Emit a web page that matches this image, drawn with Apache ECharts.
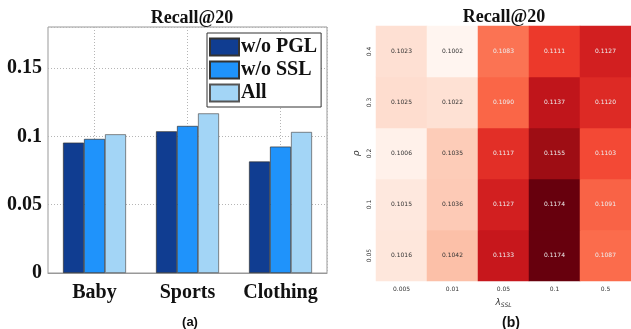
<!DOCTYPE html>
<html>
<head>
<meta charset="utf-8">
<script src="https://cdn.jsdelivr.net/npm/echarts@6/dist/echarts.min.js"></script>
<style>
    html, body { margin: 0; padding: 0; background: #fff; }
    #main { width: 631px; height: 329px; }
</style>
</head>
<body>
<div id="main"></div>
<script>
    // 柱状图数据
    var datasets = ['Baby', 'Sports', 'Clothing'];
    var variants = ['w/o PGL', 'w/o SSL', 'All'];
    var recallNoPGL = [0.0954, 0.1037, 0.0816];
    var recallNoSSL = [0.0981, 0.1076, 0.0925];
    var recallAll = [0.1015, 0.1168, 0.1032];

    // 热力图数据
    var lambdaSSL = ['0.005', '0.01', '0.05', '0.1', '0.5'];
    var rhoValues = ['0.05', '0.1', '0.2', '0.3', '0.4'];
    // 每行对应一个rho (从0.05到0.4)
    var heatRho005 = [0.1016, 0.1042, 0.1133, 0.1174, 0.1087];
    var heatRho01 = [0.1015, 0.1036, 0.1127, 0.1174, 0.1091];
    var heatRho02 = [0.1006, 0.1035, 0.1117, 0.1155, 0.1103];
    var heatRho03 = [0.1025, 0.1022, 0.1090, 0.1137, 0.1120];
    var heatRho04 = [0.1023, 0.1002, 0.1083, 0.1111, 0.1127];

    var heatRows = [heatRho005, heatRho01, heatRho02, heatRho03, heatRho04];
    var heatData = [];
    var heatMin = Infinity, heatMax = -Infinity;
    for (var r = 0; r < heatRows.length; r++) {
        for (var c = 0; c < heatRows[r].length; c++) {
            var v = heatRows[r][c];
            heatMin = Math.min(heatMin, v);
            heatMax = Math.max(heatMax, v);
            heatData.push({
                value: [c, r, v],
                // 深色格子用浅色字
                label: { color: v > 0.106 ? '#eeeeee' : '#333' }
            });
        }
    }

    var serifBold = { fontFamily: 'Liberation Serif', fontWeight: 'bold', color: '#111' };
    var reds = ['#fff5f0', '#fee0d2', '#fcbba1', '#fc9272', '#fb6a4a', '#ef3b2c', '#cb181d', '#a50f15', '#67000d'];
    var gridDot = { lineStyle: { color: '#b5b5b5', type: [1, 2], width: 1 } };

    var chart = echarts.init(document.getElementById('main'));
    var option = {
        backgroundColor: '#fff',
        animation: false,
        title: [
            { text: 'Recall@20', left: 187, top: 4, textAlign: 'center',
              textStyle: Object.assign({ fontSize: 18 }, serifBold) },
            { text: 'Recall@20', left: 499, top: 3, textAlign: 'center',
              textStyle: Object.assign({ fontSize: 18 }, serifBold) },
            { text: '(a)', left: 185, top: 311, textAlign: 'center',
              textStyle: { fontFamily: 'Liberation Sans', fontWeight: 'bold', fontSize: 13, color: '#111' } },
            { text: '(b)', left: 506, top: 311, textAlign: 'center',
              textStyle: { fontFamily: 'Liberation Sans', fontWeight: 'bold', fontSize: 14, color: '#111' } }
        ],
        legend: {
            data: variants,
            orient: 'vertical',
            left: 207,
            top: 33,
            padding: [4, 4, 4, 2],
            itemWidth: 29,
            itemHeight: 17,
            itemGap: 3,
            icon: 'rect',
            backgroundColor: '#fff',
            borderColor: '#333',
            borderWidth: 1,
            borderRadius: 0,
            textStyle: Object.assign({ fontSize: 20, padding: [0, 0, 0, -3] }, serifBold)
        },
        grid: [
            { left: 48, top: 27, width: 279, height: 246, show: true,
              borderColor: '#999', borderWidth: 1, backgroundColor: 'transparent' },
            { left: 376, top: 26, width: 257, height: 255 }
        ],
        xAxis: [
            {
                type: 'category', gridIndex: 0, data: datasets,
                axisLine: { lineStyle: { color: '#999' } },
                axisTick: { show: false },
                axisLabel: Object.assign({ fontSize: 20, margin: 10, interval: 0, hideOverlap: false }, serifBold),
                splitLine: { show: false }
            },
            {
                // 辅助轴: 在类目中心画竖向虚线
                type: 'category', gridIndex: 0, data: [0, 1, 2, 3, 4, 5],
                position: 'bottom',
                axisLine: { show: false }, axisTick: { show: false }, axisLabel: { show: false },
                splitLine: Object.assign({ show: true, interval: function (i) { return i % 2 === 1; } }, gridDot)
            },
            {
                type: 'category', gridIndex: 1, data: lambdaSSL,
                axisLine: { show: false },
                axisTick: { length: 3, lineStyle: { color: '#333' } },
                axisLabel: { fontSize: 6, color: '#333', margin: 5, interval: 0, fontFamily: 'DejaVu Sans' },
                name: '{l|λ}{s|SSL}',
                nameLocation: 'middle',
                nameGap: 17,
                nameTextStyle: {
                    rich: {
                        l: { fontSize: 9, fontStyle: 'italic', color: '#333', fontFamily: 'DejaVu Sans' },
                        s: { fontSize: 6, fontStyle: 'italic', color: '#333', fontFamily: 'DejaVu Sans', verticalAlign: 'bottom', padding: [4, 0, 0, 0] }
                    }
                },
                splitArea: { show: false }
            }
        ],
        yAxis: [
            {
                type: 'value', gridIndex: 0, min: 0, max: 0.18, interval: 0.05,
                axisLine: { show: false },
                axisTick: { show: false },
                axisLabel: Object.assign({ fontSize: 20, margin: 6, showMaxLabel: false }, serifBold),
                splitLine: gridDot
            },
            {
                type: 'category', gridIndex: 1, data: rhoValues,
                axisLine: { show: false },
                axisTick: { length: 3, lineStyle: { color: '#333' } },
                axisLabel: { fontSize: 6, color: '#333', rotate: 90, margin: 4, interval: 0, fontFamily: 'DejaVu Sans' },
                name: 'ρ',
                nameLocation: 'middle',
                nameRotate: 90,
                nameGap: 15,
                nameTextStyle: { fontSize: 9, fontStyle: 'italic', color: '#333', fontFamily: 'DejaVu Sans' }
            }
        ],
        visualMap: {
            show: false,
            seriesIndex: 3,
            min: heatMin,
            max: heatMax,
            inRange: { color: reds }
        },
        series: [
            {
                name: variants[0], type: 'bar', xAxisIndex: 0, yAxisIndex: 0,
                data: recallNoPGL, barWidth: 21, barGap: '0%',
                itemStyle: { color: '#103d91', borderColor: '#333', borderWidth: 0.7 }
            },
            {
                name: variants[1], type: 'bar', xAxisIndex: 0, yAxisIndex: 0,
                data: recallNoSSL, barWidth: 21, barGap: '0%',
                itemStyle: { color: '#1f93fb', borderColor: '#333', borderWidth: 0.7 }
            },
            {
                name: variants[2], type: 'bar', xAxisIndex: 0, yAxisIndex: 0,
                data: recallAll, barWidth: 21, barGap: '0%',
                itemStyle: { color: '#a3d5f6', borderColor: '#555', borderWidth: 0.7 }
            },
            {
                type: 'heatmap', xAxisIndex: 2, yAxisIndex: 1,
                data: heatData,
                label: {
                    show: true, fontSize: 6, fontFamily: 'DejaVu Sans',
                    formatter: function (p) { return p.value[2].toFixed(4); }
                },
                itemStyle: { borderWidth: 0 }
            }
        ]
    };
    chart.setOption(option);
</script>
</body>
</html>
